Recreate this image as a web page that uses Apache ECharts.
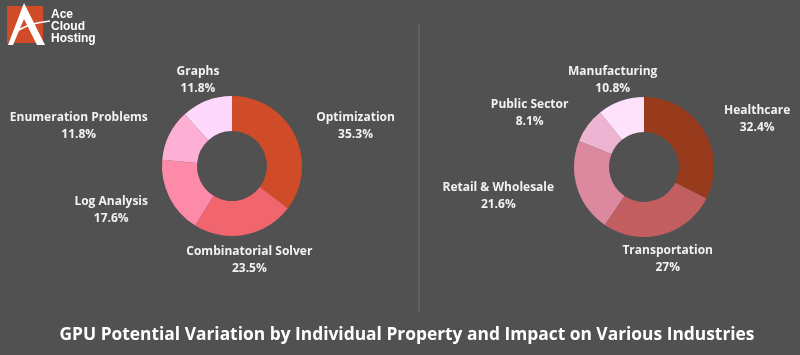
<!DOCTYPE html>
<html>
<head>
<meta charset="utf-8">
<script src="https://cdn.jsdelivr.net/npm/echarts@6/dist/echarts.min.js"></script>
<style>
html,body{margin:0;padding:0;background:#515151;}
#chart{width:800px;height:355px;}
</style>
</head>
<body>
<div id="chart"></div>
<script>
// ---- data ----
const propertyNames = ['Optimization', 'Combinatorial Solver', 'Log Analysis', 'Enumeration Problems', 'Graphs'];
const propertyValues = [35.3, 23.5, 17.6, 11.8, 11.8];
const propertyColors = ['#d04b27', '#f0656e', '#fc8aa8', '#feb0d4', '#ffd9fc'];

const industryNames = ['Healthcare', 'Transportation', 'Retail & Wholesale', 'Public Sector', 'Manufacturing'];
const industryValues = [32.4, 27, 21.6, 8.1, 10.8];
const industryColors = ['#983a1c', '#c25e60', '#dc889e', '#edb5d1', '#fee2fc'];

const titleText = 'GPU Potential Variation by Individual Property and Impact on Various Industries';

// ---- layout ----
const centers = [[232, 166], [644, 167]];
const radii = [35, 70];
const labelRadius = 94;
const allValues = [propertyValues, industryValues];

const chart = echarts.init(document.getElementById('chart'));

function labelLayoutFor(si) {
  return function (params) {
    const vals = allValues[si];
    const total = vals.reduce((a, b) => a + b, 0);
    let before = 0;
    for (let i = 0; i < params.dataIndex; i++) before += vals[i];
    const mid = (before + vals[params.dataIndex] / 2) / total;
    const th = mid * Math.PI * 2;
    const dx = Math.sin(th), dy = -Math.cos(th);
    const c = centers[si];
    let x = c[0] + dx * labelRadius;
    const y = c[1] + dy * labelRadius + 1.5;
    const w = params.labelRect.width;
    if (Math.abs(dx) > 0.6) x += (dx > 0 ? 1 : -1) * w / 2;
    return { x: x, y: y, align: 'center', verticalAlign: 'middle' };
  };
}

function makeSeries(si, names, values, colors) {
  return {
    type: 'pie',
    center: centers[si],
    radius: radii,
    startAngle: 90,
    clockwise: true,
    silent: true,
    animation: false,
    emphasis: { disabled: true },
    data: names.map((n, i) => ({ name: n, value: values[i], itemStyle: { color: colors[i] } })),
    label: {
      show: true,
      position: 'outside',
      alignTo: 'none',
      overflow: 'none',
      formatter: '{b}\n{c}%',
      color: '#f2f2f2',
      fontFamily: 'Open Sans',
      fontWeight: 700,
      fontSize: 12,
      lineHeight: 17,
      align: 'center'
    },
    labelLine: { show: false },
    labelLayout: labelLayoutFor(si)
  };
}

chart.setOption({
  backgroundColor: '#515151',
  animation: false,
  series: [
    makeSeries(0, propertyNames, propertyValues, propertyColors),
    makeSeries(1, industryNames, industryValues, industryColors)
  ],
  graphic: [
    // divider
    { type: 'line', shape: { x1: 419, y1: 24, x2: 419, y2: 313 }, style: { stroke: '#606060', lineWidth: 2 }, silent: true },
    // title
    { type: 'text', x: 407, y: 335, scaleX: 0.965,
      style: { text: titleText, textAlign: 'center', textVerticalAlign: 'middle',
               font: 'bold 18px "Open Sans"', fill: '#ffffff' } },
    // logo
    { type: 'rect', shape: { x: 7, y: 6, width: 36, height: 37 }, style: { fill: '#d04b27' } },
    { type: 'polygon', shape: { points: [[24, 3], [8, 45], [13, 45], [24, 19], [37, 45], [45, 45]] }, style: { fill: '#ffffff' } },
    { type: 'bezierCurve', shape: { x1: 12, y1: 36, cpx1: 22, cpy1: 24, x2: 50, y2: 21 }, style: { stroke: '#ffffff', lineWidth: 1.5, fill: null } },
    { type: 'text', x: 51, y: 15, style: { text: 'Ace', font: 'bold 12px "Liberation Sans"', fill: '#ffffff', textVerticalAlign: 'middle' } },
    { type: 'text', x: 51, y: 27, style: { text: 'Cloud', font: 'bold 12px "Liberation Sans"', fill: '#ffffff', textVerticalAlign: 'middle' } },
    { type: 'text', x: 51, y: 39, style: { text: 'Hosting', font: 'bold 12px "Liberation Sans"', fill: '#ffffff', textVerticalAlign: 'middle' } }
  ]
});
</script>
</body>
</html>
